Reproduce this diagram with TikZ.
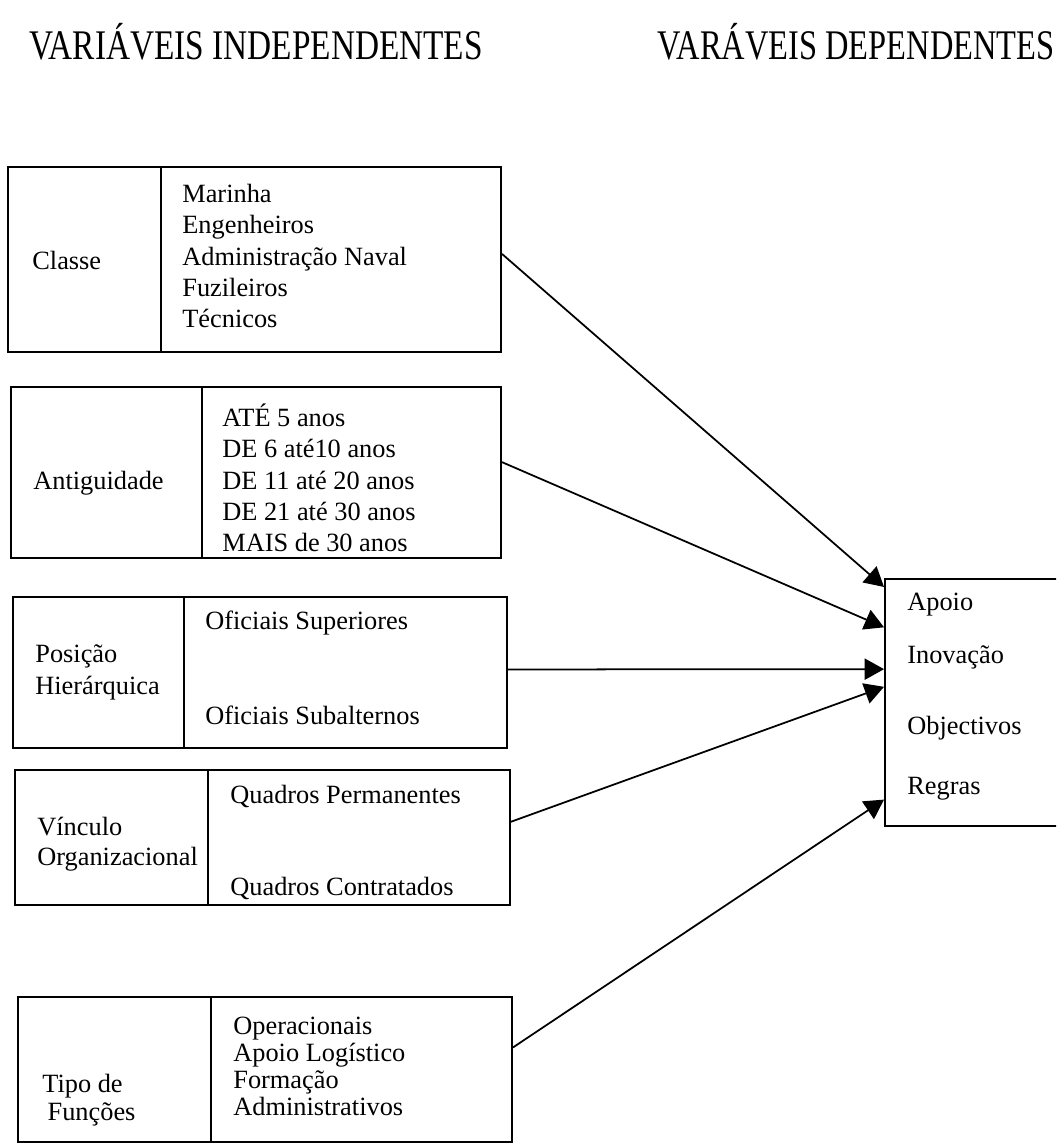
\documentclass[tikz,border=0pt]{standalone}
\usepackage{fontspec}
\setmainfont{Liberation Serif}
\usetikzlibrary{fit,calc,arrows.meta}

\tikzset{
  cell/.style={draw, line width=1.1pt, inner sep=0pt},
  body/.style={font=\fontsize{15}{18}\selectfont, align=left, inner sep=0pt, anchor=west},
  head/.style={font=\fontsize{24}{28}\selectfont, inner sep=0pt},
  link/.style={line width=1pt, -{Triangle[length=11pt,width=12pt]}}
}

\begin{document}
\begin{tikzpicture}[x=0.02cm, y=-0.02cm]
\clip (0,0) rectangle (1056,1146);
\fill[white] (0,0) rectangle (1056,1146);

% column headings
\node[head] (hind) at (256,42) {\scalebox{0.79}[1]{VARIÁVEIS INDEPENDENTES}};
\node[head] (hdep) at (856,42) {\scalebox{0.77}[1]{VARÁVEIS DEPENDENTES}};

% Classe
\node[cell, fit={(8,167) (161,352)}] (c1l) {};
\node[cell, fit={(161,167) (501,352)}] (c1r) {};
\node[body] (t1l) at (32,260) {Classe};
\node[body, font=\fontsize{15}{17.9}\selectfont] (t1r) at (182,256) {Marinha\\Engenheiros\\Administração Naval\\Fuzileiros\\Técnicos};

% Antiguidade
\node[cell, fit={(11,387) (202,558)}] (c2l) {};
\node[cell, fit={(202,387) (501,558)}] (c2r) {};
\node[body] (t2l) at (33,483) {Antiguidade};
\node[body, font=\fontsize{15}{17.8}\selectfont] (t2r) at (222,478) {ATÉ 5 anos\\DE 6 até10 anos\\DE 11 até 20 anos\\DE 21 até 30 anos\\MAIS de 30 anos};

% Posição hierárquica
\node[cell, fit={(13,597) (184,748)}] (c3l) {};
\node[cell, fit={(184,597) (507,748)}] (c3r) {};
\node[body, font=\fontsize{15}{18.2}\selectfont] (t3l) at (35,672) {Posição\\Hierárquica};
\node[body] (t3a) at (205,623) {Oficiais Superiores};
\node[body] (t3b) at (205,715) {Oficiais Subalternos};

% Vínculo organizacional
\node[cell, fit={(15,770) (208,905)}] (c4l) {};
\node[cell, fit={(208,770) (510,905)}] (c4r) {};
\node[body, font=\fontsize{15}{17}\selectfont] (t4l) at (37,844) {Vínculo\\Organizacional};
\node[body] (t4a) at (230,796) {Quadros Permanentes};
\node[body] (t4b) at (230,888) {Quadros Contratados};

% Tipo de funções
\node[cell, fit={(18,997) (211,1142)}] (c5l) {};
\node[cell, fit={(211,997) (512,1142)}] (c5r) {};
\node[body, font=\fontsize{15}{16}\selectfont] (t5l) at (42,1100) {Tipo de\\\hspace{3pt}Funções};
\node[body, font=\fontsize{15}{15.4}\selectfont] (t5r) at (233,1066) {Operacionais\\Apoio Logístico\\Formação\\Administrativos};

% dependent variables
\node[cell, fit={(885,579) (1080,826)}] (dep) {};
\node[body] (d1) at (907,605) {Apoio};
\node[body] (d2) at (907,657) {Inovação};
\node[body] (d3) at (907,728) {Objectivos};
\node[body] (d4) at (907,789) {Regras};

% influences
\draw[link] ($(c1r.north east)!0.47!(c1r.south east)$) -- ($(dep.north west)!0.036!(dep.south west)$);
\draw[link] ($(c2r.north east)!0.44!(c2r.south east)$) -- ($(dep.north west)!0.198!(dep.south west)$);
\draw[link] ($(c3r.north east)!0.48!(c3r.south east)$) -- ($(dep.north west)!0.366!(dep.south west)$);
\draw[link] ($(c4r.north east)!0.385!(c4r.south east)$) -- ($(dep.north west)!0.437!(dep.south west)$);
\draw[link] ($(c5r.north east)!0.35!(c5r.south east)$) -- ($(dep.north west)!0.89!(dep.south west)$);
\end{tikzpicture}
\end{document}
